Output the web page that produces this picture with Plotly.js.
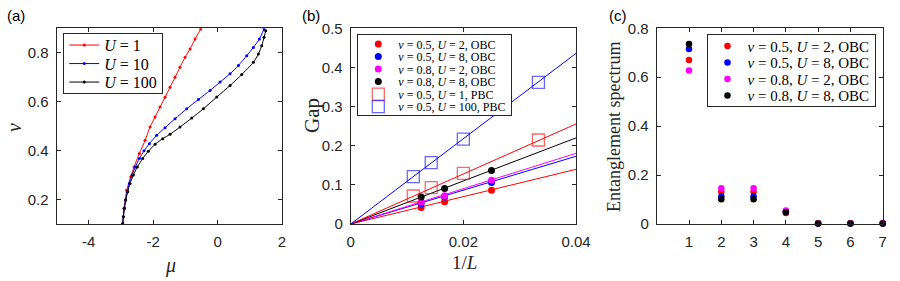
<!DOCTYPE html>
<html>
<head>
<meta charset="utf-8">
<script src="https://cdn.plot.ly/plotly-3.0.1.min.js"></script>
<style>html,body{margin:0;padding:0;background:#fff;}#chart{width:900px;height:281px;}</style>
</head>
<body>
<div id="chart"></div>
<script>
// ---------- Panel (a): nu vs mu ----------
const muU1  = [-2.945,-2.904,-2.82,-2.696,-2.593,-2.428,-2.25,-2.096,-1.94,-1.786,-1.63,-1.475,-1.32,-1.165,-1.009,-0.854,-0.699,-0.522];
const nuU1  = [0.1,0.164,0.2385,0.293,0.3335,0.388,0.442,0.4965,0.537,0.578,0.6185,0.659,0.70,0.741,0.7815,0.8155,0.856,0.897];
const muU10 = [-2.945,-2.925,-2.893,-2.852,-2.80,-2.738,-2.655,-2.552,-2.428,-2.283,-2.117,-1.889,-1.630,-1.320,-0.957,-0.596,-0.233,0.078,0.388,0.647,0.906,1.113,1.299,1.444];
const nuU10 = [0.1,0.130,0.164,0.198,0.232,0.266,0.300,0.3335,0.3675,0.399,0.4286,0.4625,0.4938,0.530,0.571,0.609,0.646,0.680,0.714,0.7477,0.788,0.822,0.856,0.897];
const muU100 = [-2.945,-2.925,-2.893,-2.852,-2.790,-2.717,-2.614,-2.490,-2.324,-2.148,-1.941,-1.703,-1.475,-1.165,-0.802,-0.440,-0.026,0.388,0.751,1.113,1.268,1.372,1.444,1.496];
const nuU100 = [0.1,0.130,0.164,0.198,0.232,0.266,0.300,0.3335,0.3675,0.3974,0.4259,0.449,0.4666,0.4965,0.533,0.571,0.6187,0.666,0.711,0.761,0.795,0.829,0.863,0.890];
const labelsA = ['<i>U</i> = 1','<i>U</i> = 10','<i>U</i> = 100'];

// ---------- Panel (b): Gap vs 1/L ----------
const invL_OBC = [0.0125, 0.01667, 0.025];
const gapN05U2 = [0.042, 0.057, 0.0865];
const gapN05U8 = [0.052, 0.069, 0.106];
const gapN08U2 = [0.0558, 0.0725, 0.1118];
const gapN08U8 = [0.069, 0.091, 0.137];
const invL_PBC = [0.01111, 0.01429, 0.02, 0.03333];
const gapPBCU1   = [0.0716, 0.0928, 0.1295, 0.2147];
const gapPBCU100 = [0.121, 0.1567, 0.2168, 0.362];
const fitX = [0, 0.04];
const fitN05U2 = [0, 0.1397];
const fitN05U8 = [0, 0.173];
const fitN08U2 = [0, 0.1806];
const fitN08U8 = [0, 0.22];
const fitPBCU1 = [0, 0.2556];
const fitPBCU100 = [0, 0.436];
const labelsB = ['<i>ν</i> = 0.5, <i>U</i> = 2, OBC','<i>ν</i> = 0.5, <i>U</i> = 8, OBC','<i>ν</i> = 0.8, <i>U</i> = 2, OBC','<i>ν</i> = 0.8, <i>U</i> = 8, OBC','<i>ν</i> = 0.5, <i>U</i> = 1, PBC','<i>ν</i> = 0.5, <i>U</i> = 100, PBC'];

// ---------- Panel (c): entanglement spectrum ----------
const esIndex = [1,2,3,4,5,6,7];
const esN05U2 = [0.6705, 0.132, 0.132, 0.045, 0.003, 0.003, 0.003];
const esN05U8 = [0.7155, 0.112, 0.112, 0.050, 0.002, 0.002, 0.002];
const esN08U2 = [0.627, 0.146, 0.146, 0.055, 0.003, 0.003, 0.003];
const esN08U8 = [0.736, 0.101, 0.101, 0.048, 0.002, 0.002, 0.002];
const labelsC = labelsB.slice(0,4);

const RED='#ff0000', BLUE='#0000ff', MAG='#ff00ff', BLK='#000000';
const AX='#262626';
const serif='Liberation Serif, Times New Roman, serif';
const sans='Liberation Sans, Arial, sans-serif';

const traces = [];
// (a)
[[muU1,nuU1,RED],[muU10,nuU10,BLUE],[muU100,nuU100,BLK]].forEach((s,i)=>{
  traces.push({x:s[0],y:s[1],type:'scatter',mode:'lines+markers',name:labelsA[i],line:{shape:'spline',smoothing:0.6,color:s[2],width:1},
    marker:{color:s[2],size:3},xaxis:'x',yaxis:'y',legend:'legend'});
});
// (b) fit lines
[[fitN05U2,RED],[fitN05U8,BLUE],[fitN08U2,MAG],[fitN08U8,BLK],[fitPBCU1,RED],[fitPBCU100,BLUE]].forEach(s=>{
  traces.push({x:fitX,y:s[0],type:'scatter',mode:'lines',showlegend:false,hoverinfo:'skip',
    line:{color:s[1],width:1},xaxis:'x2',yaxis:'y2'});
});
[[gapN05U2,RED],[gapN05U8,BLUE],[gapN08U2,MAG],[gapN08U8,BLK]].forEach((s,i)=>{
  traces.push({x:invL_OBC,y:s[0],type:'scatter',mode:'markers',name:labelsB[i],
    marker:{color:s[1],size:7},xaxis:'x2',yaxis:'y2',legend:'legend2'});
});
[[gapPBCU1,'rgba(255,0,0,0.6)'],[gapPBCU100,'rgba(0,0,255,0.6)']].forEach((s,i)=>{
  traces.push({x:invL_PBC,y:s[0],type:'scatter',mode:'markers',name:labelsB[4+i],
    marker:{symbol:'square-open',color:s[1],size:12,line:{width:1.3,color:s[1]}},xaxis:'x2',yaxis:'y2',legend:'legend2'});
});
// (c)
[[esN05U2,RED],[esN05U8,BLUE],[esN08U2,MAG],[esN08U8,BLK]].forEach((s,i)=>{
  traces.push({x:esIndex,y:s[0],type:'scatter',mode:'markers',name:labelsC[i],cliponaxis:false,
    marker:{color:s[1],size:6.5},xaxis:'x3',yaxis:'y3',legend:'legend3'});
});

function axis(extra){
  return Object.assign({showline:true,linecolor:AX,linewidth:1,mirror:'ticks',ticks:'inside',ticklen:4,
    tickcolor:AX,tickwidth:1,showgrid:false,zeroline:false,
    tickfont:{family:sans,size:15,color:AX}},extra);
}
const yDom=[0.2028,0.8993];
function legendCfg(x,y,size){
  return {x:x,y:y,xanchor:'left',yanchor:'top',bgcolor:'#ffffff',bordercolor:AX,borderwidth:1,
    font:{family:serif,size:size,color:'#000'},itemclick:false,itemdoubleclick:false};
}
const layout = {
  width:900,height:281,margin:{l:0,r:0,t:0,b:0},paper_bgcolor:'#fff',plot_bgcolor:'#fff',
  showlegend:true,
  xaxis: axis({domain:[0.0628,0.3133],range:[-5,2],tickvals:[-4,-2,0,2],ticktext:['-4','-2','0','2'],anchor:'y',ticklabelstandoff:4}),
  yaxis: axis({domain:yDom,range:[0.1,0.9],tickvals:[0.2,0.4,0.6,0.8],ticktext:['0.2','0.4','0.6','0.8'],anchor:'x',ticklabelstandoff:4}),
  xaxis2: axis({domain:[0.3897,0.64],range:[0,0.04],tickvals:[0,0.02,0.04],ticktext:['0','0.02','0.04'],anchor:'y2',ticklabelstandoff:4}),
  yaxis2: axis({domain:yDom,range:[0,0.5],tickvals:[0,0.1,0.2,0.3,0.4,0.5],ticktext:['0','0.1','0.2','0.3','0.4','0.5'],anchor:'x2',ticklabelstandoff:4}),
  xaxis3: axis({domain:[0.7297,0.9808],range:[0,7],tickvals:[1,2,3,4,5,6,7],anchor:'y3',ticklabelstandoff:4}),
  yaxis3: axis({domain:yDom,range:[0,0.8],tickvals:[0,0.2,0.4,0.6,0.8],ticktext:['0','0.2','0.4','0.6','0.8'],anchor:'x3',ticklabelstandoff:4}),
  legend: legendCfg(0.0703,0.8815,16),
  legend2: legendCfg(0.397,0.878,12),
  legend3: legendCfg(0.785,0.878,15),
  annotations:[
    {text:'(a)',x:5/900,y:1-15/281,xref:'paper',yref:'paper',xanchor:'left',yanchor:'middle',showarrow:false,font:{family:sans,size:15,color:'#000'}},
    {text:'(b)',x:300/900,y:1-15/281,xref:'paper',yref:'paper',xanchor:'left',yanchor:'middle',showarrow:false,font:{family:sans,size:15,color:'#000'}},
    {text:'(c)',x:607/900,y:1-15/281,xref:'paper',yref:'paper',xanchor:'left',yanchor:'middle',showarrow:false,font:{family:sans,size:15,color:'#000'}},
    {text:'<i>ν</i>',x:14/900,y:1-128/281,xref:'paper',yref:'paper',xanchor:'center',yanchor:'middle',textangle:-90,showarrow:false,font:{family:serif,size:20,color:AX}},
    {text:'<i>μ</i>',x:170/900,y:1-265/281,xref:'paper',yref:'paper',xanchor:'center',yanchor:'middle',showarrow:false,font:{family:serif,size:20,color:AX}},
    {text:'Gap',x:312/900,y:1-116/281,xref:'paper',yref:'paper',xanchor:'center',yanchor:'middle',textangle:-90,showarrow:false,font:{family:serif,size:21,color:AX}},
    {text:'1/<i>L</i>',x:464/900,y:1-262/281,xref:'paper',yref:'paper',xanchor:'center',yanchor:'middle',showarrow:false,font:{family:serif,size:19,color:AX}},
    {text:'Entanglement spectrum',x:614/900,y:1-127/281,xref:'paper',yref:'paper',xanchor:'center',yanchor:'middle',textangle:-90,showarrow:false,font:{family:serif,size:18,color:AX}}
  ]
};

function compact(cls, s, pad){
  const lg = document.querySelector('.infolayer g.' + cls);
  if(!lg) return;
  const items = lg.querySelectorAll('g.traces');
  const bw = 1;
  items.forEach((it,i)=>{
    const t = it.getAttribute('transform') || '';
    const m = /translate\(\s*([-\d.e]+)/.exec(t);
    const x = m ? parseFloat(m[1]) : bw;
    it.setAttribute('transform','translate('+x+','+(bw+pad+s*i+s/2)+')');
  });
  const bg = lg.querySelector('rect.bg');
  if(bg) bg.setAttribute('height', bw + 2*pad + items.length*s);
}

Plotly.newPlot('chart', traces, layout, {staticPlot:true,displayModeBar:false}).then(()=>{
  compact('legend', 18.5, 1.5);
  compact('legend2', 12.5, 2.5);
  compact('legend3', 16.5, 2.5);
});
</script>
</body>
</html>
